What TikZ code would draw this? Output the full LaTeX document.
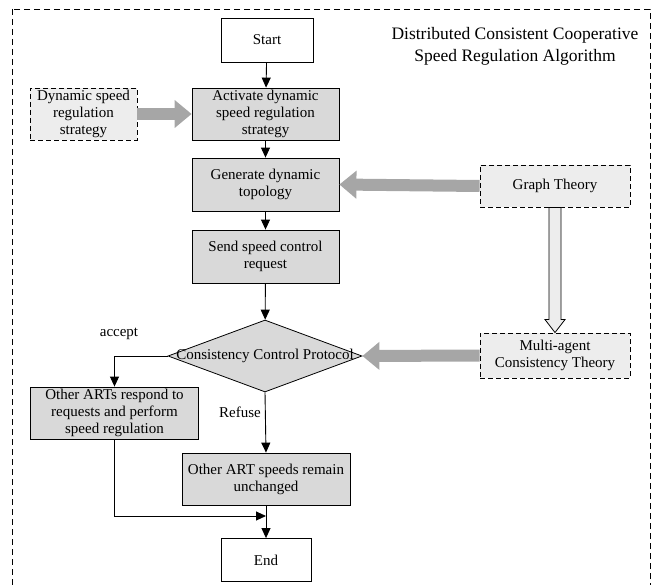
\documentclass[tikz,border=0pt]{standalone}
\usepackage{fontspec}
\setmainfont{Liberation Serif}
\usetikzlibrary{arrows.meta,shapes.geometric,calc}
\definecolor{boxgray}{HTML}{D9D9D9}
\definecolor{softgray}{HTML}{EDEDED}
\definecolor{bandgray}{HTML}{A6A6A6}
\begin{document}
\begin{tikzpicture}[x=1pt,y=-1pt,
  txt/.style={font=\fontsize{15}{17}\selectfont, align=center, inner sep=0pt},
  procbox/.style={txt, draw, line width=0.8pt, fill=boxgray},
  termbox/.style={txt, draw, line width=0.8pt, fill=white},
  srcbox/.style={txt, draw, line width=0.9pt, dash pattern=on 5pt off 3pt, fill=softgray},
  flow/.style={line width=0.9pt, -{Triangle[length=10pt,width=9pt]}},
  band/.style={line width=12pt, draw=bandgray, -{Triangle[length=17pt,width=27pt]}},
]
\useasboundingbox (0,0) rectangle (656,585);
% outer frame
\draw[line width=0.8pt, dash pattern=on 6pt off 4pt] (12,9) rectangle (650,600);

% title
\node[txt, font=\fontsize{17.5}{22}\selectfont] (title) at (515,46)
  {Distributed Consistent Cooperative\\Speed Regulation Algorithm};

% main column
\node[termbox, minimum width=92pt, minimum height=44pt] (start) at (267,40) {Start};
\node[procbox, minimum width=147pt, minimum height=52pt] (act) at (265.5,114)
  {Activate dynamic\\speed regulation\\strategy};
\node[procbox, minimum width=147pt, minimum height=53pt] (gen) at (265.5,184.5)
  {Generate dynamic\\topology};
\node[procbox, minimum width=147pt, minimum height=53pt] (send) at (265.5,256.5)
  {Send speed control\\request};
\node[diamond, draw, line width=0.8pt, fill=boxgray, inner sep=0pt, aspect=2.67,
  minimum width=194pt, minimum height=72pt,
  label={[txt]center:Consistency Control Protocol}] (dia) at (265,356) {};
\node[procbox, minimum width=168pt, minimum height=52pt] (oa) at (114.5,413)
  {Other ARTs respond to\\requests and perform\\speed regulation};
\node[procbox, minimum width=168pt, minimum height=52pt] (ors) at (266,479)
  {Other ART speeds remain\\unchanged};
\node[termbox, minimum width=90pt, minimum height=43pt] (end) at (266,560) {End};
\coordinate (join) at (266,516);

% side inputs
\node[srcbox, minimum width=107pt, minimum height=52pt] (dyn) at (83.5,114)
  {Dynamic speed\\regulation\\strategy};
\node[srcbox, minimum width=150pt, minimum height=42pt] (gt) at (555,186)
  {Graph Theory};
\node[srcbox, minimum width=150pt, minimum height=45pt] (ma) at (555,355.5)
  {Multi-agent\\Consistency Theory};

% flow connectors
\draw[flow] (start) -- (act);
\draw[flow] (act) -- (gen);
\draw[flow] (gen) -- (send);
\draw[flow] (send) -- (dia);
\draw[flow] (dia.west) -| (oa.north);
\draw[flow] (dia.south) -- (ors.north);
\draw[flow] (ors.south) -- (end.north);
\draw[flow] (oa.south) |- (join);

% branch labels
\node[txt] (lacc) at (119,334) {accept};
\node[txt] (lref) at (240,412) {Refuse};

% broad grey arrows from the theory inputs
\draw[band] (dyn.east) -- (act.west);
\draw[band] (gt.west) -- (gen.east);
\draw[band] (ma.west) -- (dia.east);

% hollow arrow from graph theory to multi-agent theory
\draw[line width=0.8pt, fill=softgray]
  ($(gt.south)+(-6,0)$) -- ($(ma.north)+(-6,-13)$) -- ($(ma.north)+(-10,-13)$)
  -- (ma.north) -- ($(ma.north)+(10,-13)$) -- ($(ma.north)+(6,-13)$)
  -- ($(gt.south)+(6,0)$) -- cycle;
\end{tikzpicture}
\end{document}
